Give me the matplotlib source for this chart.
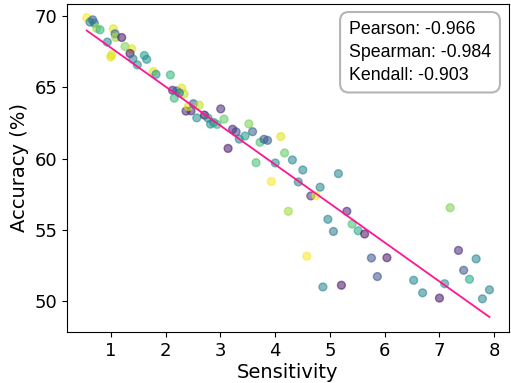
import numpy as np
import matplotlib
matplotlib.use('Agg')
import matplotlib.pyplot as plt

# sensitivity vs accuracy
sens = np.array([0.561, 0.670, 0.621, 0.700, 0.743, 0.804, 1.047, 1.078, 1.090, 1.200,
                 0.937, 1.260, 1.383, 0.999, 1.017, 1.352, 1.406, 1.485, 1.613, 1.657,
                 1.777, 1.826, 2.088, 2.128, 2.205, 2.159, 2.296, 2.338, 2.252, 2.374,
                 2.466, 2.416, 2.508, 2.617, 2.570, 2.712, 2.776, 2.822, 2.880, 2.941,
                 3.008, 3.068, 3.142, 3.224, 3.288, 3.346, 3.452, 3.521, 3.589, 3.726,
                 3.799, 3.863, 4.104, 3.653, 4.004, 4.174, 4.316, 4.506, 5.156, 3.932,
                 4.424, 4.822, 4.652, 4.749, 4.243, 5.310, 4.964, 5.406, 5.516, 5.065,
                 5.635, 4.579, 5.759, 6.042, 5.867, 4.873, 5.211, 6.530, 6.694, 7.001,
                 7.096, 7.196, 7.348, 7.671, 7.443, 7.549, 7.914, 7.786])
acc = np.array([69.87, 69.72, 69.56, 69.49, 69.12, 69.02, 69.09, 68.74, 68.49, 68.48,
                68.16, 67.85, 67.69, 67.12, 67.27, 67.36, 66.98, 66.56, 67.22, 66.95,
                66.09, 65.90, 65.86, 64.78, 64.74, 64.23, 64.93, 64.52, 64.60, 63.32,
                63.34, 63.64, 63.84, 63.74, 62.85, 63.04, 62.83, 62.41, 62.52, 62.39,
                63.48, 62.76, 60.71, 62.05, 61.87, 61.36, 61.58, 62.43, 61.88, 61.14,
                61.35, 61.27, 61.54, 59.71, 59.69, 60.39, 59.90, 59.20, 58.94, 58.39,
                58.36, 57.99, 57.38, 57.41, 56.30, 56.30, 55.74, 55.41, 54.94, 54.89,
                54.71, 53.15, 53.03, 53.05, 51.73, 51.00, 51.12, 51.47, 50.59, 50.22,
                51.23, 56.55, 53.56, 52.97, 52.17, 51.54, 50.80, 50.17])
hue = np.array([1.00, 0.30, 0.40, 0.40, 0.85, 0.65, 0.95, 0.30, 0.85, 0.05,
                0.45, 0.80, 0.95, 0.95, 0.95, 0.05, 0.45, 0.50, 0.55, 0.50,
                0.95, 0.50, 0.65, 0.10, 0.30, 0.65, 0.95, 0.90, 0.35, 0.10,
                0.10, 0.95, 0.30, 0.90, 0.50, 0.00, 0.45, 0.50, 0.45, 0.65,
                0.10, 0.75, 0.05, 0.10, 0.20, 0.45, 0.55, 0.80, 0.30, 0.70,
                0.30, 0.30, 0.95, 0.70, 0.50, 0.75, 0.45, 0.45, 0.45, 1.00,
                0.45, 0.45, 0.15, 1.00, 0.85, 0.10, 0.45, 0.70, 0.60, 0.40,
                0.05, 1.00, 0.25, 0.05, 0.25, 0.45, 0.05, 0.45, 0.45, 0.05,
                0.50, 0.80, 0.10, 0.45, 0.25, 0.60, 0.45, 0.45])

# fitted line as seen in the picture
slope = -2.73
intercept = 70.5
stats = ['Pearson: -0.966', 'Spearman: -0.984', 'Kendall: -0.903']

fig = plt.figure(figsize=(5.11, 3.83), dpi=100)
ax = fig.add_axes([0.131, 0.133, 0.865, 0.857])
ax.scatter(sens, acc, c=hue, cmap='viridis', vmin=0, vmax=1, s=32, alpha=0.55, linewidths=1)
xl = np.array([sens.min(), sens.max()])
ax.plot(xl, slope * xl + intercept, color='#ff1493', lw=1.3)

ax.set_xlim(0.20, 8.27)
ax.set_ylim(47.84, 70.84)
ax.set_xticks([1, 2, 3, 4, 5, 6, 7, 8])
ax.set_yticks([50, 55, 60, 65, 70])
ax.tick_params(labelsize=13)
ax.set_xlabel('Sensitivity', fontsize=14, labelpad=2)
ax.set_ylabel('Accuracy (%)', fontsize=14, labelpad=4)

ax.text(0.638, 0.948, '\n'.join(stats), transform=ax.transAxes, ha='left', va='top',
        fontsize=12.8, family='Liberation Sans', linespacing=1.45,
        bbox=dict(boxstyle='round,pad=0.5', fc='white', ec='#b5b5b5', lw=1.5))

fig.savefig('out.png', dpi=100)
